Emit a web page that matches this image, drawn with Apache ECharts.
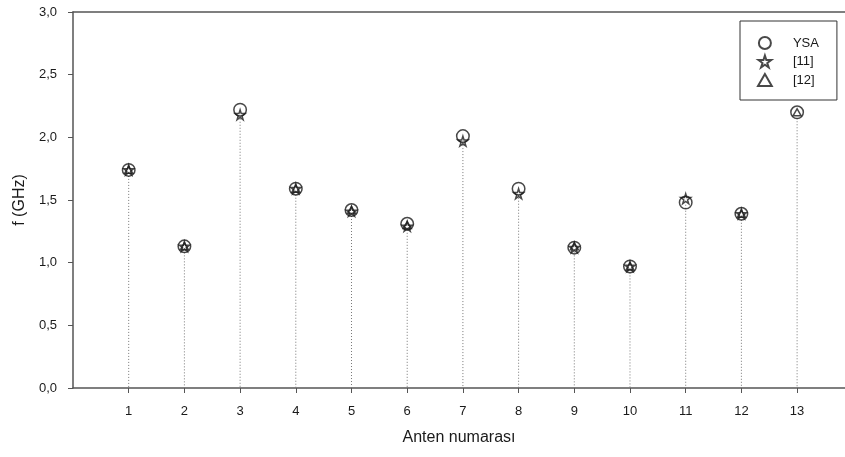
<!DOCTYPE html>
<html>
<head>
<meta charset="utf-8">
<script src="https://cdn.jsdelivr.net/npm/echarts@6/dist/echarts.min.js"></script>
<style>html,body{margin:0;padding:0;background:#fff}#c{width:845px;height:457px}</style>
</head>
<body>
<div id="c"></div>
<script>
const antenna = [1, 2, 3, 4, 5, 6, 7, 8, 9, 10, 11, 12, 13];
const ysa   = [1.74, 1.13, 2.22, 1.59, 1.42, 1.31, 2.01, 1.59, 1.12, 0.97, 1.48, 1.39, 2.20];
const ref11 = [1.74, 1.13, 2.18, 1.59, 1.41, 1.29, 1.97, 1.55, 1.12, 0.97, 1.51, 1.39, null];
const ref12 = [1.74, 1.13, null, 1.59, 1.42, 1.30, null, null, 1.13, 0.97, null, 1.39, 2.20];

const pairs = arr => antenna.map((a, i) => [a, arr[i]]).filter(p => p[1] !== null);
const stroke = '#1a1a1a';
const hollow = {color: 'rgba(0,0,0,0)', borderColor: stroke, borderWidth: 1.5};
const starPath = 'path://M50,0 L61,35 L98,35 L68,57 L79,91 L50,70 L21,91 L32,57 L2,35 L39,35 Z';
const triPath = 'path://M50,0 L100,87 L0,87 Z';
const font = 'Liberation Sans';

const chart = echarts.init(document.getElementById('c'), null, {renderer: 'canvas'});
chart.setOption({
  animation: false,
  backgroundColor: '#fff',
  grid: {left: 73, top: 12, bottom: 69, right: 0},
  legend: {
    orient: 'vertical', left: 740, top: 21,
    padding: [15, 18, 13, 17],
    borderColor: '#333', borderWidth: 1,
    itemWidth: 44, itemHeight: 12, itemGap: 4.5,
    symbolKeepAspect: true,
    textStyle: {fontFamily: font, fontSize: 13, color: '#1a1a1a', padding: [0, 0, 0, 1]},
    data: [
      {name: 'YSA', icon: 'circle'},
      {name: '[11]', icon: starPath},
      {name: '[12]', icon: triPath}
    ]
  },
  xAxis: [{
    type: 'value', min: 0, max: 13.86,
    axisLine: {show: true, onZero: false, lineStyle: {color: '#555', width: 1.5}},
    axisTick: {show: true, length: 5, customValues: antenna, lineStyle: {color: '#555', width: 1}},
    axisLabel: {customValues: antenna, margin: 17, fontFamily: font, fontSize: 13, color: '#1a1a1a'},
    splitLine: {show: false},
    name: 'Anten numarası', nameLocation: 'middle', nameGap: 42,
    nameTextStyle: {fontFamily: font, fontSize: 16, color: '#1a1a1a'}
  }, {
    type: 'value', min: 0, max: 13.86, position: 'top',
    axisLine: {show: true, onZero: false, lineStyle: {color: '#555', width: 1.5}},
    axisTick: {show: false}, axisLabel: {show: false}, splitLine: {show: false}
  }],
  yAxis: {
    type: 'value', min: 0, max: 3, interval: 0.5,
    axisLine: {show: true, lineStyle: {color: '#555', width: 1.5}},
    axisTick: {show: true, length: 5, lineStyle: {color: '#555', width: 1}},
    axisLabel: {margin: 16, fontFamily: font, fontSize: 13, color: '#1a1a1a',
      formatter: v => v.toFixed(1).replace('.', ',')},
    splitLine: {show: false},
    name: 'f (GHz)', nameLocation: 'middle', nameGap: 44,
    nameTextStyle: {fontFamily: font, fontSize: 16, color: '#1a1a1a'}
  },
  series: [{
    type: 'custom', name: 'drop', silent: true, z: 1,
    data: pairs(ysa).map((p, i) => [p[0], Math.max(p[1], ref11[i] ?? 0, ref12[i] ?? 0)]),
    renderItem: (params, api) => {
      const top = api.coord([api.value(0), api.value(1)]);
      const bot = api.coord([api.value(0), 0]);
      return {type: 'line', shape: {x1: top[0], y1: top[1] + 6, x2: bot[0], y2: bot[1]},
        style: {stroke: '#777', lineWidth: 1, lineDash: [1, 2]}};
    }
  }, {
    type: 'scatter', name: 'YSA', symbol: 'circle', symbolSize: 12.5, z: 3,
    itemStyle: hollow, data: pairs(ysa)
  }, {
    type: 'scatter', name: '[11]', symbol: starPath, symbolSize: 10, z: 4,
    itemStyle: hollow, data: pairs(ref11)
  }, {
    type: 'scatter', name: '[12]', symbol: triPath, symbolSize: [8, 7], z: 5,
    itemStyle: hollow, data: pairs(ref12)
  }]
});
</script>
</body>
</html>
